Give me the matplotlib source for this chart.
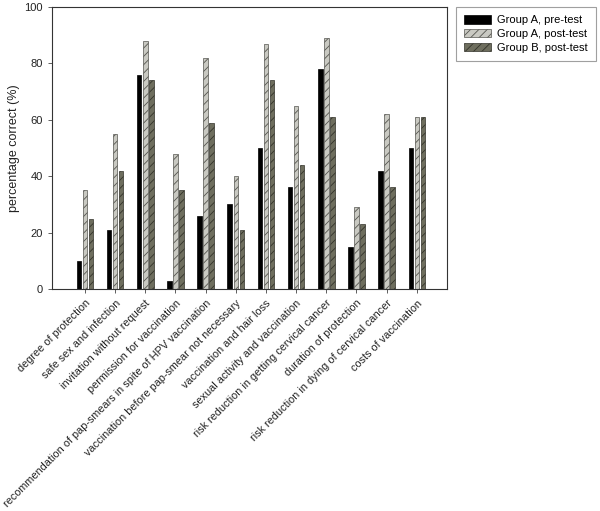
import numpy as np
import matplotlib
matplotlib.use("Agg")
import matplotlib.pyplot as plt

plt.rcParams['font.family'] = ['Liberation Sans', 'DejaVu Sans']
plt.rcParams['hatch.linewidth'] = 0.6

topics = [
    "degree of protection",
    "safe sex and infection",
    "invitation without request",
    "permission for vaccination",
    "recommendation of pap-smears in spite of HPV vaccination",
    "vaccination before pap-smear not necessary",
    "vaccination and hair loss",
    "sexual activity and vaccination",
    "risk reduction in getting cervical cancer",
    "duration of protection",
    "risk reduction in dying of cervical cancer",
    "costs of vaccination",
]
group_a_pre = [10, 21, 76, 3, 26, 30, 50, 36, 78, 15, 42, 50]
group_a_post = [35, 55, 88, 48, 82, 40, 87, 65, 89, 29, 62, 61]
group_b_post = [25, 42, 74, 35, 59, 21, 74, 44, 61, 23, 36, 61]

fig = plt.figure(figsize=(6.0, 5.11), dpi=100)
ax = fig.add_axes([52 / 600, 1 - 289 / 511, 395 / 600, 282 / 511])

x = np.arange(len(topics))
w = 0.15
off = 0.2
ax.bar(x - off, group_a_pre, w, color="black", edgecolor="black",
       linewidth=0.5, label="Group A, pre-test")
ax.bar(x, group_a_post, w, color="#c9c9c2", edgecolor="#555550",
       hatch="////", linewidth=0.5, label="Group A, post-test")
ax.bar(x + off, group_b_post, w, color="#6e6e5e", edgecolor="#33332a",
       hatch="////", linewidth=0.5, label="Group B, post-test")

ax.set_xlim(-1.09, 12.0)
ax.set_ylim(0, 100)
ax.set_yticks([0, 20, 40, 60, 80, 100])
ax.set_xticks(x)
ax.set_xticklabels(topics, rotation=45, ha="right", rotation_mode="anchor",
                   fontsize=7.8, color="#222222")
ax.tick_params(axis="y", labelsize=8, length=3, width=0.6, color="#444444",
               labelcolor="#222222")
ax.tick_params(axis="x", length=3, width=0.6, color="#444444")
ax.set_ylabel("percentage correct (%)", fontsize=9, color="#222222",
              labelpad=3)
for s in ax.spines.values():
    s.set_linewidth(0.8)
    s.set_color("#333333")

leg = fig.legend(loc="upper left", bbox_to_anchor=(456 / 600, 1 - 7 / 511),
                 borderaxespad=0, fontsize=8, frameon=True, fancybox=False,
                 edgecolor="#888888", handlelength=2.4, handleheight=0.75,
                 borderpad=0.75, labelspacing=0.35, handletextpad=0.55)
leg.get_frame().set_linewidth(0.8)

fig.savefig("out.png", dpi=100)
